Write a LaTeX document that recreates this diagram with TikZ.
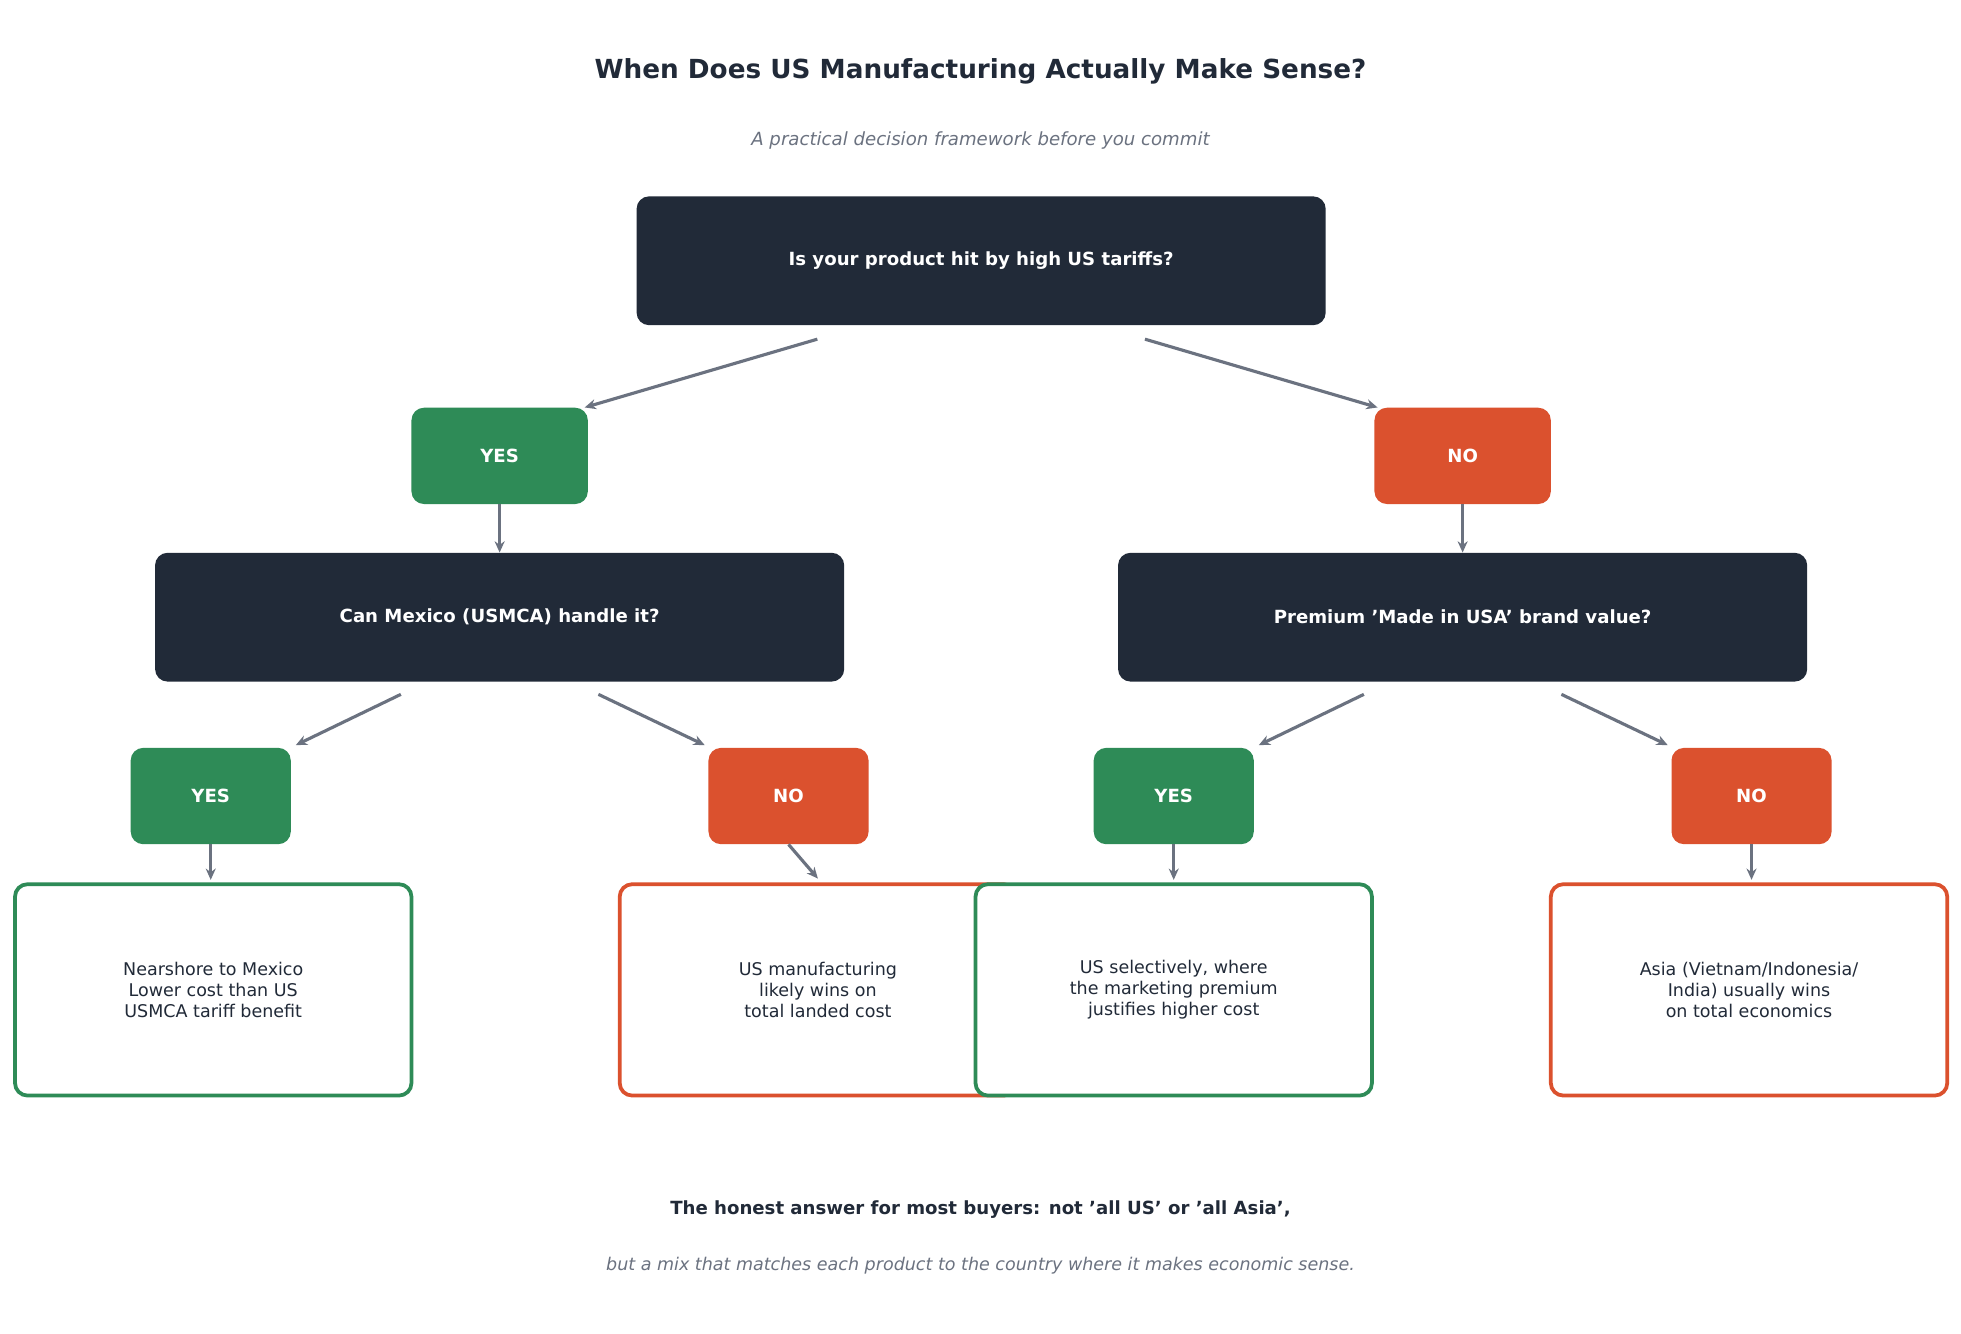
\documentclass[tikz,border=0pt]{standalone}
\usepackage{fontspec}
\setmainfont{DejaVu Sans}
\usetikzlibrary{arrows.meta}
\definecolor{dark}{HTML}{212A38}
\definecolor{grn}{HTML}{2E8B57}
\definecolor{org}{HTML}{DB512E}
\definecolor{gry}{HTML}{6B7280}
\begin{document}
\begin{tikzpicture}[x=1pt,y=-1pt,
 q/.style={fill=dark,rounded corners=10pt,minimum width=551pt,minimum height=103pt,text=white,font=\fontsize{14.5}{17}\selectfont\bfseries},
 lab/.style={rounded corners=10pt,minimum height=77pt,text=white,font=\fontsize{14.5}{17}\selectfont\bfseries},
 yes/.style={lab,fill=grn,minimum width=141pt},
 no/.style={lab,fill=org,minimum width=141pt},
 yes2/.style={lab,fill=grn,minimum width=128pt},
 no2/.style={lab,fill=org,minimum width=128pt},
 leaf/.style={draw,line width=3pt,fill=white,rounded corners=10pt,minimum width=317pt,minimum height=169pt,text=dark,align=center,font=\fontsize{14}{17}\selectfont},
 arr/.style={-{Stealth[length=9pt,width=8pt]},draw=gry,fill=gry,line width=2.5pt}]
\useasboundingbox (0,0) rectangle (1568,1066);
\fill[white] (0,0) rectangle (1568,1066);
\node[font=\fontsize{21}{25}\selectfont\bfseries,text=dark] (title) at (784,57) {When Does US Manufacturing Actually Make Sense?};
\node[font=\fontsize{14.5}{17}\selectfont\itshape,text=gry] (sub) at (784,112) {A practical decision framework before you commit};
\node[q] (top) at (784.5,208.5) {Is your product hit by high US tariffs?};
\node[yes] (y1) at (399.5,364.5) {YES};
\node[no] (n1) at (1169.5,364.5) {NO};
\node[q] (ml) at (399.5,493.5) {Can Mexico (USMCA) handle it?};
\node[q] (mr) at (1169.5,493.5) {Premium 'Made in USA' brand value?};
\node[yes2] (y2) at (168.5,636.5) {YES};
\node[no2] (n2) at (630.5,636.5) {NO};
\node[yes2] (y3) at (938.5,636.5) {YES};
\node[no2] (n3) at (1400.5,636.5) {NO};
\node[leaf,draw=grn] (l1) at (170.5,791.5) {Nearshore to Mexico\\Lower cost than US\\USMCA tariff benefit};
\node[leaf,draw=org] (l2) at (654,791.5) {US manufacturing\\likely wins on\\total landed cost};
\node[leaf,draw=grn] (l3) at (938.5,791.5) {US selectively, where\\the marketing premium\\justifies higher cost};
\node[leaf,draw=org] (l4) at (1398.5,791.5) {Asia (Vietnam/Indonesia/\\India) usually wins\\on total economics};
\node[font=\fontsize{14.5}{17}\selectfont\bfseries,text=dark] (f1) at (784,967) {The honest answer for most buyers: not 'all US' or 'all Asia',};
\node[font=\fontsize{14}{17}\selectfont\itshape,text=gry] (f2) at (784,1012) {but a mix that matches each product to the country where it makes economic sense.};
\draw[arr] ([xshift=-131pt,yshift=-11pt]top.south) -- ([xshift=68pt]y1.north);
\draw[arr] ([xshift=131pt,yshift=-11pt]top.south) -- ([xshift=-68pt]n1.north);
\draw[arr] (y1.south) -- (ml.north);
\draw[arr] (n1.south) -- (mr.north);
\draw[arr] ([xshift=-79pt,yshift=-10pt]ml.south) -- ([xshift=68pt,yshift=2pt]y2.north);
\draw[arr] ([xshift=79pt,yshift=-10pt]ml.south) -- ([xshift=-67pt,yshift=2pt]n2.north);
\draw[arr] ([xshift=-79pt,yshift=-10pt]mr.south) -- ([xshift=68pt,yshift=2pt]y3.north);
\draw[arr] ([xshift=79pt,yshift=-10pt]mr.south) -- ([xshift=-67pt,yshift=2pt]n3.north);
\draw[arr] (y2.south) -- ([xshift=-2pt,yshift=2pt]l1.north);
\draw[arr] (n2.south) -- ([yshift=3pt]l2.north);
\draw[arr] (y3.south) -- ([yshift=2pt]l3.north);
\draw[arr] (n3.south) -- ([xshift=2pt,yshift=2pt]l4.north);
\end{tikzpicture}
\end{document}
